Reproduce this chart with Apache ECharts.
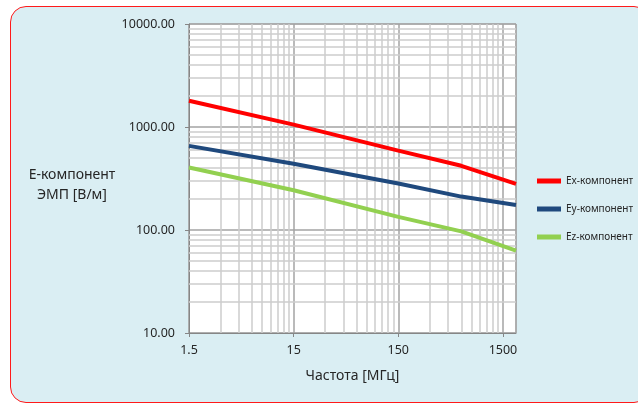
<!DOCTYPE html>
<html>
<head>
<meta charset="utf-8">
<script src="https://cdn.jsdelivr.net/npm/echarts@6/dist/echarts.min.js"></script>
<style>
    html, body { margin: 0; padding: 0; background: #fff; overflow: hidden; }
    #frame {
        position: absolute; left: 10px; top: 6px; width: 640px; height: 397px;
        box-sizing: border-box; border: 1px solid #ff1a1a; border-radius: 16px;
        background: #daeef3;
    }
    #chart { position: absolute; left: 0; top: 0; width: 638px; height: 403px; }
</style>
</head>
<body>
<div id="frame"></div>
<div id="chart"></div>
<script>
// частота, МГц
var freq = [1.5, 15, 150, 600, 2000];
// E-компонент, В/м
var ex = [1800, 1055, 590, 420, 280];
var ey = [656, 440, 283, 211, 175];
var ez = [404, 243, 134, 97, 63];
var names = ['Ex-компонент', 'Ey-компонент', 'Ez-компонент'];
var colors = ['#ff0000', '#1f497d', '#92d050'];
var xTicks = [1.5, 15, 150, 1500];
var yTicks = [10, 100, 1000, 10000];

// ось X логарифмическая, отсчитывается от 1.5 МГц
var X_BASE = 1.5;
var xMin = 1.5, xMax = 2000;

function pairs(vals) {
    return freq.map(function (f, i) {
        return [f / X_BASE, vals[i]];
    });
}

// промежуточные линии сетки (2..9 в каждой декаде)
var minorX = [], minorY = [];
for (var d = 0; d < 3; d++) {
    for (var k = 2; k <= 9; k++) {
        var vx = k * Math.pow(10, d);
        if (vx < xMax / X_BASE) minorX.push({ xAxis: vx });
        minorY.push({ yAxis: k * Math.pow(10, d + 1) });
    }
}

var textColor = '#262626';
var font = 'Noto Sans';

var myChart = echarts.init(document.getElementById('chart'), null, { renderer: 'canvas' });
var option = {
    animation: false,
    backgroundColor: 'transparent',
    grid: {
        left: 189, right: 122, top: 24, bottom: 70,
        show: true, backgroundColor: '#ffffff',
        borderColor: '#a6a6a6', borderWidth: 1,
        containLabel: false, outerBoundsMode: 'none'
    },
    // подпись оси Y (две строки, слева от графика)
    graphic: [{
        type: 'text',
        x: 72, y: 185,
        style: {
            text: 'E-компонент\nЭМП [В/м]',
            align: 'center',
            verticalAlign: 'middle',
            fontFamily: font, fontSize: 14, lineHeight: 20,
            fill: textColor
        }
    }],
    legend: {
        orient: 'vertical',
        left: 532, top: 169,
        itemWidth: 24, itemHeight: 5, itemGap: 14,
        icon: 'rect',
        data: names,
        textStyle: { fontFamily: font, fontSize: 10, color: textColor, lineHeight: 14 }
    },
    xAxis: {
        type: 'log',
        min: xMin / X_BASE,
        max: xMax / X_BASE,
        name: 'Частота [МГц]',
        nameLocation: 'middle',
        nameGap: 36,
        nameTextStyle: { fontFamily: font, fontSize: 14, color: textColor },
        axisLine: { show: true, lineStyle: { color: '#868686', width: 1 } },
        axisTick: { show: true, length: 4, lineStyle: { color: '#868686' } },
        axisLabel: {
            margin: 11, fontFamily: font, fontSize: 12.5, color: textColor,
            showMaxLabel: false,
            formatter: function (v) {
                var f = Math.round(v * X_BASE * 100) / 100;
                return xTicks.indexOf(f) >= 0 ? String(f) : '';
            }
        },
        splitLine: { show: true, lineStyle: { color: '#a3a3a3', width: 1.5 } }
    },
    yAxis: {
        type: 'log',
        min: yTicks[0],
        max: yTicks[yTicks.length - 1],
        axisLine: { show: true, lineStyle: { color: '#868686', width: 1 } },
        axisTick: { show: true, length: 4, lineStyle: { color: '#868686' } },
        axisLabel: {
            margin: 14, fontFamily: font, fontSize: 12.5, color: textColor,
            formatter: function (v) {
                return v.toFixed(2);
            }
        },
        splitLine: { show: true, lineStyle: { color: '#a3a3a3', width: 1.5 } }
    },
    series: [
        {
            name: names[0], type: 'line', data: pairs(ex), z: 3,
            showSymbol: false, symbol: 'none',
            lineStyle: { color: colors[0], width: 4 }, itemStyle: { color: colors[0] },
            markLine: {
                silent: true, z: 1, animation: false,
                symbol: ['none', 'none'],
                label: { show: false },
                emphasis: { disabled: true },
                lineStyle: { color: '#cdcdcd', type: 'solid', width: 1.5 },
                data: minorX.concat(minorY)
            }
        },
        {
            name: names[1], type: 'line', data: pairs(ey), z: 3,
            showSymbol: false, symbol: 'none',
            lineStyle: { color: colors[1], width: 4 }, itemStyle: { color: colors[1] }
        },
        {
            name: names[2], type: 'line', data: pairs(ez), z: 3,
            showSymbol: false, symbol: 'none',
            lineStyle: { color: colors[2], width: 4 }, itemStyle: { color: colors[2] }
        }
    ]
};
myChart.setOption(option);
</script>
</body>
</html>
